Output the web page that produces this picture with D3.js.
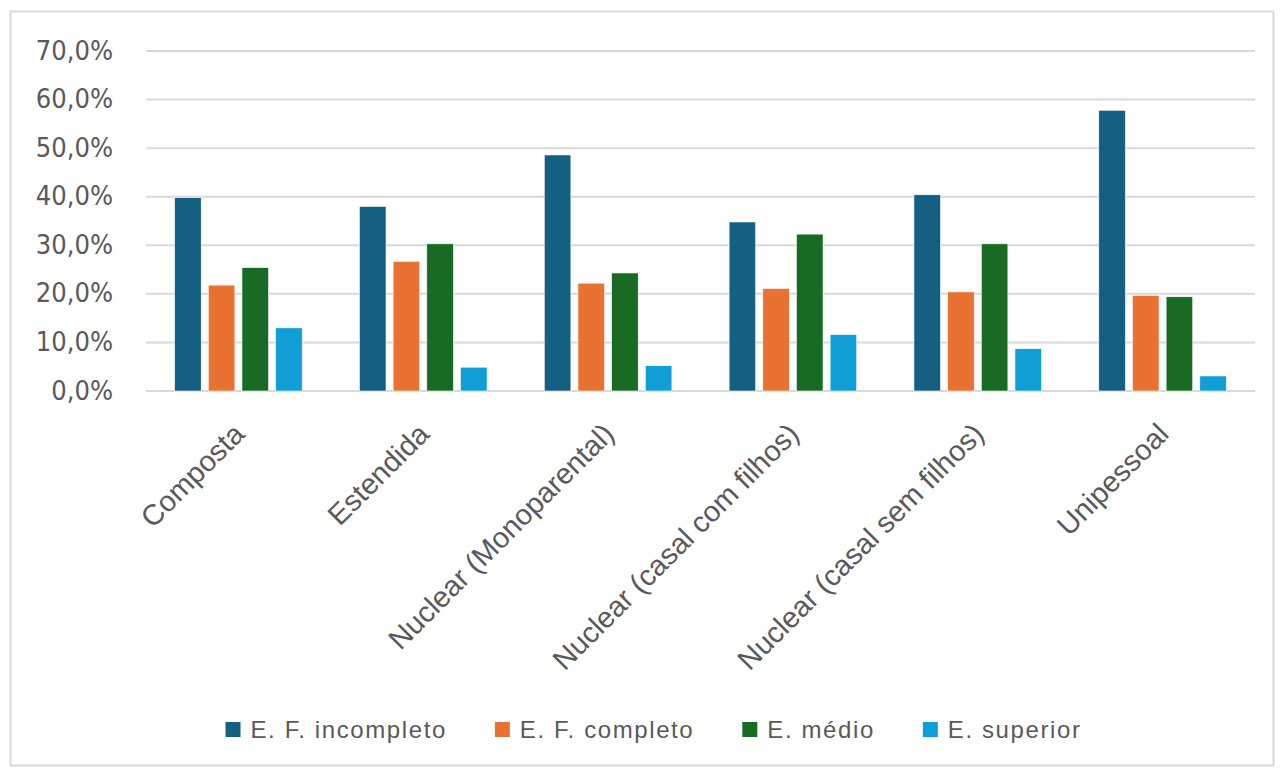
<!DOCTYPE html>
<html>
<head>
<meta charset="utf-8">
<script src="https://cdn.jsdelivr.net/npm/d3@7"></script>
<style>
  body { margin: 0; background: #fff; }
  svg { display: block; }
</style>
</head>
<body>
<div id="chart"></div>
<script>
// categories + series
const categories = ["Composta", "Estendida", "Nuclear (Monoparental)", "Nuclear (casal com filhos)", "Nuclear (casal sem filhos)", "Unipessoal"];
const seriesNames = ["E. F. incompleto", "E. F. completo", "E. médio", "E. superior"];
const seriesColors = ["#156082", "#E97132", "#196B24", "#0F9ED5"];

// values in %
const efIncompleto = [39.8, 38.0, 48.6, 34.8, 40.4, 57.8];
const efCompleto   = [21.8, 26.7, 22.2, 21.1, 20.4, 19.7];
const eMedio       = [25.4, 30.3, 24.3, 32.3, 30.3, 19.4];
const eSuperior    = [13.0, 4.9, 5.2, 11.6, 8.7, 3.1];

const yTicks = [0, 10, 20, 30, 40, 50, 60, 70];

const W = 1284, H = 776;
const margin = {top: 51, right: 29, bottom: 385, left: 146};
const width = W - margin.left - margin.right;
const height = H - margin.top - margin.bottom;

const allValues = [efIncompleto, efCompleto, eMedio, eSuperior];
const data = categories.map((c, i) => ({
  cat: c,
  values: seriesNames.map((s, j) => ({name: s, value: allValues[j][i]}))
}));

const svg = d3.select("#chart").append("svg")
    .attr("width", W)
    .attr("height", H);

// chart area border
svg.append("rect")
    .attr("x", 10.5).attr("y", 11.5)
    .attr("width", 1263).attr("height", 754)
    .attr("fill", "#fff")
    .attr("stroke", "#d9d9d9")
    .attr("stroke-width", 2);

const g = svg.append("g")
    .attr("transform", `translate(${margin.left},${margin.top})`);

const x0 = d3.scaleBand()
    .domain(categories)
    .range([0, width])
    .padding(0);

const outer = 28.6;
const x1 = d3.scaleBand()
    .domain(seriesNames)
    .range([outer, x0.bandwidth() - outer])
    .paddingInner(0.21);

const y = d3.scaleLinear()
    .domain([0, 70])
    .range([height, 0]);

const color = d3.scaleOrdinal()
    .domain(seriesNames)
    .range(seriesColors);

// gridlines
g.append("g")
    .selectAll("line")
    .data(yTicks)
    .join("line")
        .attr("x1", 0)
        .attr("x2", width)
        .attr("y1", d => y(d))
        .attr("y2", d => y(d))
        .attr("stroke", "#d9d9d9")
        .attr("stroke-width", 2);

// y axis labels
const yAxis = g.append("g")
    .attr("transform", "translate(-33,0)")
    .call(d3.axisLeft(y)
        .tickValues(yTicks)
        .tickSize(0)
        .tickPadding(0)
        .tickFormat(d => d.toFixed(1).replace(".", ",") + "%"));
yAxis.select(".domain").remove();
yAxis.selectAll("text")
    .attr("fill", "#595959")
    .attr("dy", "0.3em")
    .style("font-family", "'Liberation Sans Narrow', 'DejaVu Sans Condensed', sans-serif")
    .style("font-size", "27px");

// bars
g.append("g")
    .selectAll("g")
    .data(data)
    .join("g")
        .attr("transform", d => `translate(${x0(d.cat)},0)`)
    .selectAll("rect")
    .data(d => d.values)
    .join("rect")
        .attr("x", d => x1(d.name))
        .attr("y", d => y(d.value))
        .attr("width", x1.bandwidth())
        .attr("height", d => y(0) - y(d.value))
        .attr("fill", d => color(d.name))
        .attr("stroke", "#ffffff")
        .attr("stroke-width", 0.6);

// category labels, rotated
const xAxis = g.append("g")
    .attr("transform", `translate(0,${height})`)
    .call(d3.axisBottom(x0).tickSize(0).tickPadding(0));
xAxis.select(".domain").remove();
xAxis.selectAll("text")
    .attr("fill", "#595959")
    .attr("text-anchor", "end")
    .attr("dy", "0.72em")
    .attr("transform", "translate(-7,30) rotate(-45)")
    .style("font-family", "'Liberation Sans', Arial, sans-serif")
    .style("font-size", "29px");

// legend
const legend = svg.append("g")
    .attr("transform", "translate(0,730)");
const items = legend.selectAll("g")
    .data(seriesNames)
    .join("g");
items.append("rect")
    .attr("x", 0)
    .attr("y", -8)
    .attr("width", 15)
    .attr("height", 15)
    .attr("fill", d => color(d));
items.append("text")
    .attr("x", 25)
    .attr("y", 0)
    .attr("dy", "0.35em")
    .attr("fill", "#595959")
    .style("font-family", "'Liberation Sans', Arial, sans-serif")
    .style("font-size", "24px")
    .style("letter-spacing", "1.6px")
    .text(d => d);

let pos = 0;
const offsets = [];
const gap = 48;
items.each(function() {
  offsets.push(pos);
  const tw = d3.select(this).select("text").node().getComputedTextLength();
  pos += 25 + tw + gap;
});
const total = pos - gap;
const startX = 653.5 - total / 2;
items.attr("transform", (d, i) => `translate(${startX + offsets[i]},0)`);
</script>
</body>
</html>
